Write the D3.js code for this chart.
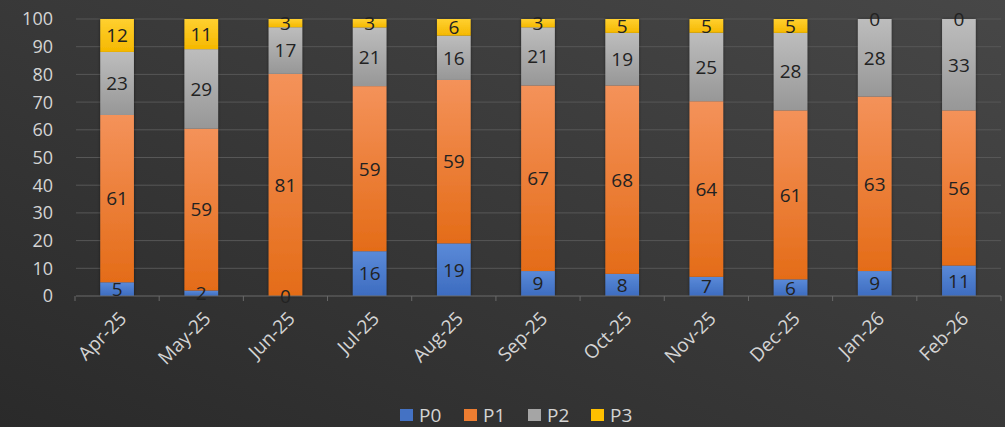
<!DOCTYPE html>
<html><head><meta charset="utf-8">
<script src="https://cdn.jsdelivr.net/npm/d3@7"></script>
<style>html,body{margin:0;padding:0;background:#333;}svg{display:block;}</style>
</head><body>
<svg id="c" width="1005" height="427"></svg>
<script>
const categories = ["Apr-25","May-25","Jun-25","Jul-25","Aug-25","Sep-25","Oct-25","Nov-25","Dec-25","Jan-26","Feb-26"];
const seriesNames = ["P0","P1","P2","P3"];
const p0 = [5,2,0,16,19,9,8,7,6,9,11];
const p1 = [61,59,81,59,59,67,68,64,61,63,56];
const p2 = [23,29,17,21,16,21,19,25,28,28,33];
const p3 = [12,11,3,3,6,3,5,5,5,0,0];
const yTicks = [0,10,20,30,40,50,60,70,80,90,100];

const colors = {P0:["#5a8ad8","#3d6cc0"],P1:["#f4925a","#e46c18"],P2:["#bdbdbd","#979797"],P3:["#ffd030","#f5b800"]};
const legendColors = {P0:"#4472c4",P1:"#ed7d31",P2:"#a5a5a5",P3:"#ffc000"};

const W=1005,H=427;
const FONT="Open Sans, sans-serif";
const svg=d3.select("#c");
const defs=svg.append("defs");
const bg=defs.append("linearGradient").attr("id","bg").attr("x1","0").attr("y1","1").attr("x2","1").attr("y2","0");
bg.append("stop").attr("offset","0").attr("stop-color","#2a2a2a");
bg.append("stop").attr("offset","1").attr("stop-color","#474747");
svg.append("rect").attr("width",W).attr("height",H).attr("fill","url(#bg)");

const sh=defs.append("filter").attr("id","sh").attr("x","-20%").attr("y","-5%").attr("width","140%").attr("height","110%");
sh.append("feDropShadow").attr("dx",0).attr("dy",0).attr("stdDeviation",1.5).attr("flood-color","#000").attr("flood-opacity",0.5);

seriesNames.forEach(s=>{
  const g=defs.append("linearGradient").attr("id","g"+s).attr("x1","0").attr("y1","0").attr("x2","0").attr("y2","1");
  g.append("stop").attr("offset","0").attr("stop-color",colors[s][0]);
  g.append("stop").attr("offset","1").attr("stop-color",colors[s][1]);
});

const rows=categories.map((c,i)=>({cat:c,P0:p0[i],P1:p1[i],P2:p2[i],P3:p3[i]}));
const stack=d3.stack().keys(seriesNames).offset(d3.stackOffsetExpand);
const stacked=stack(rows);

const x=d3.scaleBand().domain(categories).range([75,1001]).paddingInner(0.6).paddingOuter(0.3);
const y=d3.scaleLinear().domain([0,100]).range([296,19]);

// gridlines
svg.append("g").selectAll("line").data(yTicks.filter(t=>t>0)).join("line")
  .attr("x1",76).attr("x2",1001).attr("y1",d=>y(d)).attr("y2",d=>y(d))
  .attr("stroke","#575757").attr("stroke-width",1);

// y labels
svg.append("g").selectAll("text").data(yTicks).join("text")
  .attr("x",53).attr("y",d=>y(d)).attr("dy","0.36em").attr("text-anchor","end")
  .attr("fill","#d4d4d4").attr("font-family",FONT).attr("font-size",18)
  .text(d=>d);

// bars
const barG=svg.append("g").attr("filter","url(#sh)");
const layers=barG.selectAll("g").data(stacked).join("g").attr("fill",d=>"url(#g"+d.key+")");
layers.selectAll("rect").data(d=>d).join("rect")
  .attr("x",d=>x(d.data.cat)).attr("width",x.bandwidth())
  .attr("y",d=>y(d[1]*100)).attr("height",d=>y(d[0]*100)-y(d[1]*100));

// axis line with ticks
const ax=svg.append("g").attr("transform","translate(0,296)");
ax.append("line").attr("x1",76).attr("x2",1001).attr("stroke","#6a6a6a");
const step=x.step();
ax.selectAll(".tk").data(d3.range(categories.length+1)).join("line")
  .attr("x1",i=>x(categories[0])+x.bandwidth()/2-step/2+i*step)
  .attr("x2",i=>x(categories[0])+x.bandwidth()/2-step/2+i*step)
  .attr("y1",0).attr("y2",5).attr("stroke","#6a6a6a");

// labels
stacked.forEach(layer=>{
  svg.append("g").selectAll("text").data(layer).join("text")
    .attr("x",d=>x(d.data.cat)+x.bandwidth()/2)
    .attr("y",d=>y((d[0]+d[1])/2*100))
    .attr("dy","0.36em").attr("text-anchor","middle")
    .attr("fill","#222").attr("font-family",FONT).attr("font-size",19)
    .text(d=>d.data[layer.key]);
});

// x labels
svg.append("g").selectAll("text").data(categories).join("text")
  .attr("transform",d=>`translate(${x(d)+x.bandwidth()/2+6},${315}) rotate(-45)`)
  .attr("text-anchor","end").attr("dy","0.35em")
  .attr("fill","#d4d4d4").attr("font-family",FONT).attr("font-size",19)
  .text(d=>d);

// legend
const lg=svg.append("g").attr("transform","translate(400,415)");
const lw=[0,64,128,191];
seriesNames.forEach((s,i)=>{
  const gg=lg.append("g").attr("transform",`translate(${lw[i]},0)`);
  gg.append("rect").attr("x",0).attr("y",-6).attr("width",13).attr("height",12).attr("fill",legendColors[s]);
  gg.append("text").attr("x",19).attr("y",0).attr("dy","0.36em").attr("fill","#d4d4d4")
    .attr("font-family",FONT).attr("font-size",19).text(s);
});
</script>
</body></html>
